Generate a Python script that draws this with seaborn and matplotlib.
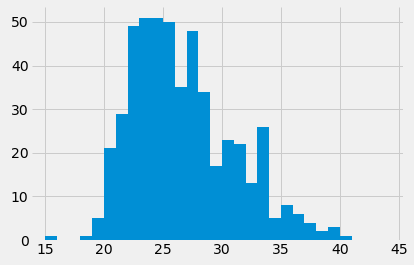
import matplotlib
matplotlib.use("Agg")
import matplotlib.pyplot as plt
import seaborn as sns
import numpy as np

plt.style.use("fivethirtyeight")
plt.rcParams['font.family'] = ['DejaVu Sans']

bin_left = list(range(15, 45))
counts = [1, 0, 0, 1, 5, 21, 29, 49, 51, 51, 50, 35, 48, 34, 17,
          23, 22, 13, 26, 5, 8, 6, 4, 2, 3, 1, 0, 0, 0, 0]
edges = list(range(15, 46))

centers = [b + 0.5 for b in bin_left]

fig = plt.figure(figsize=(414/72, 265/72), dpi=72)
fig.patch.set_facecolor('#f0f0f0')
ax = fig.add_axes([32/414, 1 - 240/265, (403-32)/414, (240-6.5)/265])
sns.histplot(x=centers, weights=counts, bins=edges, color='#008fd5',
             alpha=1, edgecolor='none', linewidth=0, ax=ax)
ax.set_facecolor('#f0f0f0')
ax.set_xlim(13.9, 45.35)
ax.set_ylim(0, 53.55)
ax.set_xticks([15, 20, 25, 30, 35, 40, 45])
ax.set_yticks([0, 10, 20, 30, 40, 50])
ax.set_xlabel('')
ax.set_ylabel('')
ax.tick_params(labelsize=14)
ax.grid(True, color='#cbcbcb')
ax.set_axisbelow(True)
for s in ax.spines.values():
    s.set_visible(False)
fig.savefig('out.png', dpi=72, facecolor='#f0f0f0')
